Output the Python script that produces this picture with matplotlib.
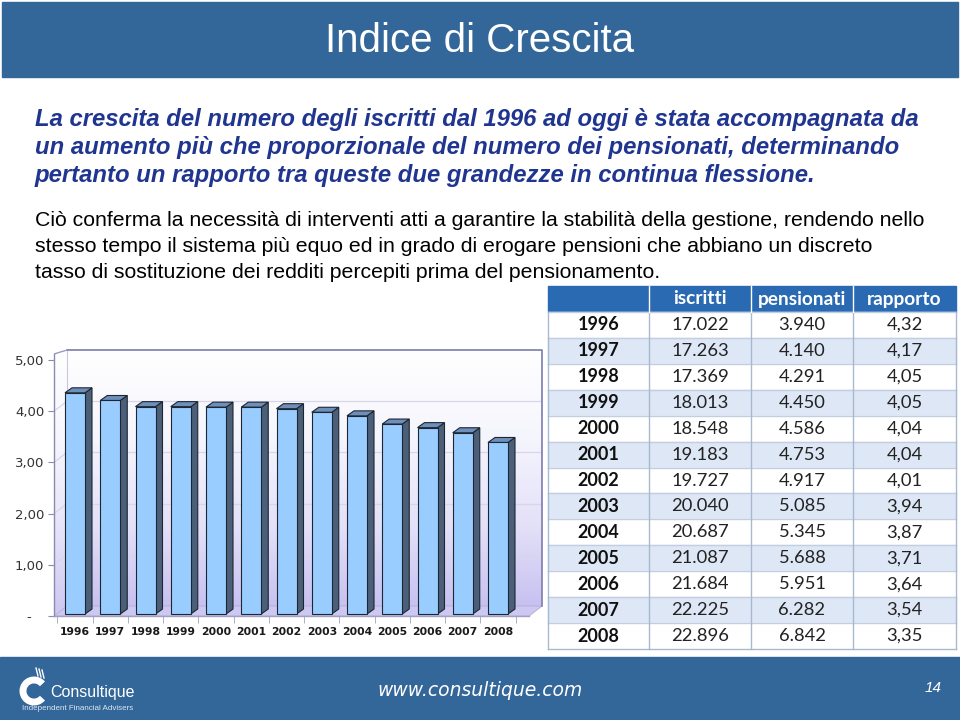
import numpy as np
import matplotlib
matplotlib.use("Agg")
import matplotlib.pyplot as plt
from matplotlib.patches import Rectangle, Polygon, Arc
from matplotlib.colors import LinearSegmentedColormap

# data
years = [1996, 1997, 1998, 1999, 2000, 2001, 2002, 2003, 2004, 2005, 2006, 2007, 2008]
iscritti = [17022, 17263, 17369, 18013, 18548, 19183, 19727, 20040, 20687, 21087, 21684, 22225, 22896]
pensionati = [3940, 4140, 4291, 4450, 4586, 4753, 4917, 5085, 5345, 5688, 5951, 6282, 6842]
rapporto = [4.32, 4.17, 4.05, 4.05, 4.04, 4.04, 4.01, 3.94, 3.87, 3.71, 3.64, 3.54, 3.35]
y_ticks = [0, 1, 2, 3, 4, 5]
y_tick_labels = ['-   ', '1,00', '2,00', '3,00', '4,00', '5,00']
col_headers = ['iscritti', 'pensionati', 'rapporto']

title = 'Indice di Crescita'
intro_lines = [
    'La crescita del numero degli iscritti dal 1996 ad oggi è stata accompagnata da',
    'un aumento più che proporzionale del numero dei pensionati, determinando',
    'pertanto un rapporto tra queste due grandezze in continua flessione.',
]
body_lines = [
    'Ciò conferma la necessità di interventi atti a garantire la stabilità della gestione, rendendo nello',
    'stesso tempo il sistema più equo ed in grado di erogare pensioni che abbiano un discreto',
    'tasso di sostituzione dei redditi percepiti prima del pensionamento.',
]

BLUE = '#336699'
SANS = ['Liberation Sans', 'DejaVu Sans']


def fmt_thousands(n):
    return f'{n:,}'.replace(',', '.')


def fmt_ratio(v):
    return f'{v:.2f}'.replace('.', ',')


fig = plt.figure(figsize=(9.6, 7.2), dpi=100)
bg = fig.add_axes([0, 0, 1, 1])
bg.set_xlim(0, 960)
bg.set_ylim(720, 0)
bg.axis('off')

# title bar and footer
bg.add_patch(Rectangle((2, 2), 956, 75, color=BLUE, zorder=1))
bg.text(480, 41, title, color='white', fontsize=29, ha='center', va='center', family=SANS)
bg.add_patch(Rectangle((0, 657), 960, 63, color=BLUE, zorder=1))
bg.text(480, 690, 'www.consultique.com', color='white', fontsize=13.5, style='italic',
        ha='center', va='center', family='DejaVu Sans')
bg.text(933, 688, '14', color='white', fontsize=11, style='italic',
        ha='center', va='center', family=SANS)

# logo
bg.add_patch(Arc((34, 691), 22, 22, theta1=40, theta2=320, color='white', lw=5, zorder=3))
for k in range(3):
    bg.plot([36 + 3 * k, 38 + 3 * k], [668 + k, 676 + k], color='white', lw=1, zorder=3)
bg.text(50, 692, 'Consultique', color='white', fontsize=11.5, ha='left', va='center',
        family=SANS)
bg.text(22, 708, 'Independent Financial Advisers', color='#dfe8f2', fontsize=5.8,
        ha='left', va='center', family=SANS)

# text
for i, line in enumerate(intro_lines):
    bg.text(35, 126 + 28 * i, line, color='#1f3590', fontsize=17.2, fontweight='bold',
            style='italic', ha='left', va='baseline', family=SANS)
for i, line in enumerate(body_lines):
    bg.text(35, 226 + 26 * i, line, color='black', fontsize=15.3,
            ha='left', va='baseline', family=SANS)

# table
col_x = [548, 649, 751, 853, 956]
head_top, head_bot = 286, 312
row_h = (649 - head_bot) / len(years)
bg.add_patch(Rectangle((col_x[0], head_top), col_x[-1] - col_x[0], head_bot - head_top,
                       color='#2a6ab2', zorder=2))
for j, h in enumerate(col_headers):
    cx = (col_x[j + 1] + col_x[j + 2]) / 2
    bg.text(cx, (head_top + head_bot) / 2, h, color='white', fontsize=13.8,
            fontweight='bold', ha='center', va='center', family='Lato', zorder=4)
for r, yr in enumerate(years):
    top = head_bot + r * row_h
    fc = '#dde7f5' if r % 2 else 'white'
    bg.add_patch(Rectangle((col_x[0], top), col_x[-1] - col_x[0], row_h, color=fc, zorder=2))
    bg.plot([col_x[0], col_x[-1]], [top, top], color='#c3cfe0', lw=1, zorder=3)
    cy = top + row_h / 2
    vals = [fmt_thousands(iscritti[r]), fmt_thousands(pensionati[r]), fmt_ratio(rapporto[r])]
    bg.text((col_x[0] + col_x[1]) / 2, cy, str(yr), color='#111111', fontsize=13,
            fontweight='bold', ha='center', va='center', family='Lato', zorder=4)
    for j, v in enumerate(vals):
        bg.text((col_x[j + 1] + col_x[j + 2]) / 2, cy, v, color='#222222', fontsize=13.2,
                ha='center', va='center', family='Lato', zorder=4)
bg.plot([col_x[0], col_x[-1]], [649, 649], color='#a9b9cd', lw=1, zorder=3)
for x in col_x:
    bg.plot([x, x], [head_bot, 649], color='#a9b9cd', lw=1, zorder=3)
for x in col_x[1:-1]:
    bg.plot([x, x], [head_top, head_bot], color='white', lw=1, zorder=3)

# chart (pseudo 3D column chart)
PX_X, PX_Y = 35.25, 51.2
left_px, right_px, base_px = 54, 542, 616
dx, dy = 13 / PX_X, 10 / PX_Y
x0 = -21 / PX_X
x1 = x0 + (right_px - left_px) / PX_X
ymax = 5 + dy
top_px = base_px - ymax * PX_Y

ax = fig.add_axes([left_px / 960, (720 - base_px) / 720,
                   (right_px - left_px) / 960, (base_px - top_px) / 720])
ax.set_facecolor('none')
ax.set_xlim(x0, x1)
ax.set_ylim(0, ymax)
for s in ax.spines.values():
    s.set_visible(False)

cmap = LinearSegmentedColormap.from_list('wall', ['#ffffff', '#f5f5fd', '#e3e0f8', '#c4bdf0'])
grad = np.linspace(0, 1, 256).reshape(-1, 1)
back = Rectangle((x0 + dx, dy), x1 - x0 - dx, ymax - dy, facecolor='none', edgecolor='none')
ax.add_patch(back)
im = ax.imshow(grad, cmap=cmap, aspect='auto', extent=(x0, x1, 0, ymax),
               origin='upper', zorder=0)
im.set_clip_path(back)
side = Polygon([(x0, 0), (x0 + dx, dy), (x0 + dx, ymax), (x0, ymax - 4 / PX_Y)],
               closed=True, facecolor='none', edgecolor='none')
ax.add_patch(side)
im2 = ax.imshow(grad, cmap=cmap, aspect='auto', extent=(x0, x1, 0, ymax),
                origin='upper', zorder=0, alpha=0.85)
im2.set_clip_path(side)
floor = Polygon([(x0, 0), (x1 - dx, 0), (x1, dy), (x0 + dx, dy)], closed=True,
                facecolor='#cdc8f2', edgecolor='#b8b4dc', lw=0.8, zorder=1)
ax.add_patch(floor)

for k in y_ticks[1:-1]:
    ax.plot([x0 + dx, x1], [k + dy, k + dy], color='#d6d6e8', lw=0.9, zorder=1)
    ax.plot([x0, x0 + dx], [k, k + dy], color='#d6d6e8', lw=0.9, zorder=1)
# wall borders
ax.plot([x0 + dx, x1, x1], [ymax, ymax, dy], color='#7c7cae', lw=1.2, zorder=2, clip_on=False)
ax.plot([x0, x0 + dx], [ymax - 4 / PX_Y, ymax], color='#9a9ac0', lw=1, zorder=2)
ax.plot([x0 + dx, x0 + dx], [dy, ymax], color='#c8c8dc', lw=0.8, zorder=1)
ax.plot([x0, x0], [0, ymax - 4 / PX_Y], color='#8a8ab0', lw=1, zorder=5, clip_on=False)
ax.plot([x0, x1 - dx], [0, 0], color='#a0a0c0', lw=1, zorder=5, clip_on=False)

# bars
w = 20 / PX_X
bdx, bdy = 7 / PX_X, 5 / PX_Y
lift = 2 / PX_Y
for i, v in enumerate(rapporto):
    xl, xr = i - w / 2, i + w / 2
    ytop = lift + v
    ax.add_patch(Polygon([(xr, lift), (xr + bdx, lift + bdy), (xr + bdx, ytop + bdy), (xr, ytop)],
                         closed=True, facecolor='#4b5f78', edgecolor='#1d2633', lw=0.8, zorder=6))
    ax.add_patch(Polygon([(xl, ytop), (xr, ytop), (xr + bdx, ytop + bdy), (xl + bdx, ytop + bdy)],
                         closed=True, facecolor='#6f8fbb', edgecolor='#1d2633', lw=0.8, zorder=6))
    ax.add_patch(Rectangle((xl, lift), w, v, facecolor='#99ccff', edgecolor='#1d2633',
                           lw=0.8, zorder=7))

ax.set_yticks(y_ticks)
ax.set_yticklabels(y_tick_labels)
ax.tick_params(axis='y', length=4, color='#8a8ab0', labelsize=9.5, labelcolor='#333333', pad=3)
ax.set_xticks(range(len(years)))
ax.set_xticklabels([str(y) for y in years], fontweight='bold')
ax.set_xticks([i + 0.5 for i in range(-1, len(years))], minor=True)
ax.tick_params(axis='x', which='major', length=0, labelsize=7.8, labelcolor='#1a1a1a', pad=8)
ax.tick_params(axis='x', which='minor', length=5, color='#a0a0c0')

fig.savefig('out.png', dpi=100)
